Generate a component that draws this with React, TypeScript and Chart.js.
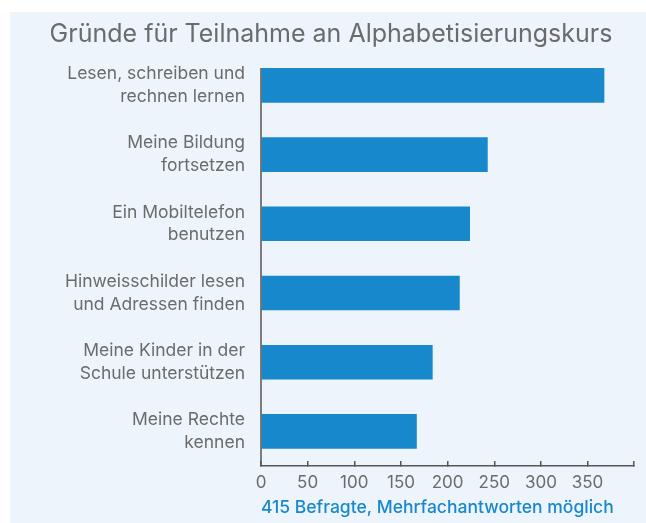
import React, { useEffect, useRef } from 'react';
import { Chart, registerables } from 'chart.js';

Chart.register(...registerables);

const TITLE = 'Gründe für Teilnahme an Alphabetisierungskurs';
const NOTE = '415 Befragte, Mehrfachantworten möglich';

const categories: string[][] = [
  ['Lesen, schreiben und', 'rechnen lernen'],
  ['Meine Bildung', 'fortsetzen'],
  ['Ein Mobiltelefon', 'benutzen'],
  ['Hinweisschilder lesen', 'und Adressen finden'],
  ['Meine Kinder in der', 'Schule unterstützen'],
  ['Meine Rechte', 'kennen'],
];
const values = [368, 243, 224, 213, 184, 167];
const xTickLabels = ['0', '50', '100', '150', '200', '250', '300', '350', ''];

const FONT = "Inter, 'Liberation Sans', Arial, sans-serif";
const GRAY = '#6b6b6b';
const AXIS = '#555555';
const BLUE = '#1788cc';
const BG = '#eef4fc';

const yAxisLine = {
  id: 'yAxisLine',
  afterDatasetsDraw(chart: any) {
    const meta = chart.getDatasetMeta(0);
    const first = meta.data[0];
    if (!first) return;
    const { left, bottom } = chart.chartArea;
    const props = first.getProps(['y', 'height'], true);
    const ctx = chart.ctx;
    ctx.save();
    ctx.strokeStyle = AXIS;
    ctx.lineWidth = 1.5;
    ctx.beginPath();
    ctx.moveTo(left, props.y - props.height / 2);
    ctx.lineTo(left, bottom);
    ctx.stroke();
    ctx.restore();
  },
};

export default function App() {
  const ref = useRef<HTMLCanvasElement>(null);
  useEffect(() => {
    if (!ref.current) return;
    Chart.defaults.font.family = FONT;
    const chart = new Chart(ref.current, {
      type: 'bar',
      data: {
        labels: categories as any,
        datasets: [
          {
            data: values,
            backgroundColor: BLUE,
            borderWidth: 0,
            barPercentage: 0.5,
            categoryPercentage: 1,
          },
        ],
      },
      options: {
        indexAxis: 'y',
        responsive: false,
        animation: false,
        layout: { padding: { right: 9, left: 15, top: 0, bottom: 0 } },
        plugins: {
          legend: { display: false },
          tooltip: { enabled: false },
          title: {
            display: true,
            text: TITLE,
            color: GRAY,
            font: { family: FONT, size: 25, weight: 'normal', lineHeight: 1.2 },
            padding: { top: 7.5, bottom: 1.3 },
          },
        },
        scales: {
          y: {
            type: 'category',
            grid: { display: false, drawTicks: false },
            border: { display: false },
            ticks: {
              color: GRAY,
              font: { family: FONT, size: 17.5, lineHeight: 1.3 },
              padding: 16,
            },
            afterFit: (s: any) => {
              s.width = 236;
            },
          },
          x: {
            type: 'linear',
            min: 0,
            max: 400,
            grid: {
              drawOnChartArea: false,
              drawTicks: true,
              tickLength: -5,
              color: AXIS,
              lineWidth: 1.5,
            },
            border: { display: true, color: AXIS, width: 1.5 },
            ticks: {
              stepSize: 50,
              color: GRAY,
              font: { family: FONT, size: 17, lineHeight: 1.2 },
              padding: 11.8,
              maxRotation: 0,
              callback: (_v: any, i: number) => xTickLabels[i],
            },
            title: {
              display: true,
              text: NOTE,
              align: 'start',
              color: BLUE,
              font: { family: FONT, size: 17.5, weight: 500, lineHeight: 1.2 },
              padding: { top: 0, bottom: 4.5 },
            },
            afterFit: (s: any) => {
              s.height = 57;
            },
          },
        },
      } as any,
      plugins: [yAxisLine],
    });
    return () => chart.destroy();
  }, []);

  return (
    <div
      style={{
        position: 'absolute',
        left: 10,
        top: 12,
        width: 636,
        height: 511,
        background: BG,
      }}
    >
      <canvas ref={ref} width={636} height={511} style={{ display: 'block' }} />
    </div>
  );
}
